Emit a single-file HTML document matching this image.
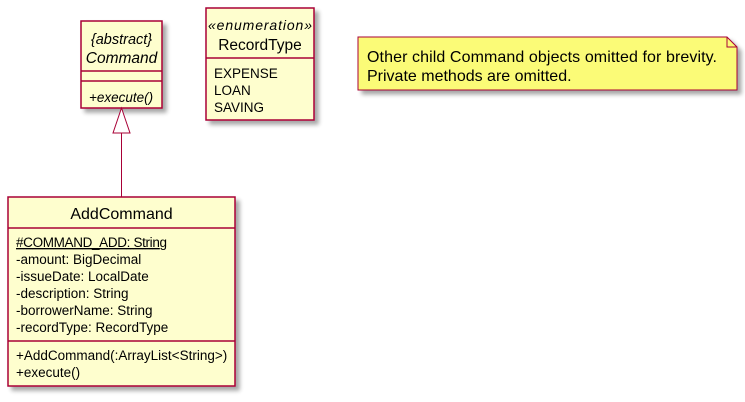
<!DOCTYPE html>
<html><head><meta charset="utf-8"><style>html,body{margin:0;padding:0;background:#fff}svg{display:block}text{font-family:"Liberation Sans",sans-serif;fill:#000}</style></head>
<body>
<svg width="745" height="402" viewBox="0 0 745 402" xmlns="http://www.w3.org/2000/svg">
<defs><filter id="sh" x="-10%" y="-10%" width="130%" height="130%"><feGaussianBlur in="SourceAlpha" stdDeviation="2"/><feOffset dx="4" dy="4"/><feComponentTransfer><feFuncA type="linear" slope="0.35"/></feComponentTransfer><feMerge><feMergeNode/><feMergeNode in="SourceGraphic"/></feMerge></filter></defs>
<!-- Command -->
<rect x="81" y="21" width="81" height="87" fill="#FEFECE" stroke="#A80036" stroke-width="1.5" filter="url(#sh)"/>
<line x1="81" y1="71" x2="162" y2="71" stroke="#A80036" stroke-width="1.5"/>
<line x1="81" y1="81" x2="162" y2="81" stroke="#A80036" stroke-width="1.5"/>
<text x="121.5" y="44" font-size="14.5" font-style="italic" text-anchor="middle">{abstract}</text>
<text x="121.5" y="63" font-size="15.5" font-style="italic" text-anchor="middle">Command</text>
<text x="89" y="102" font-size="13.5" font-style="italic">+execute()</text>
<!-- RecordType -->
<rect x="206" y="8" width="108" height="112" fill="#FEFECE" stroke="#A80036" stroke-width="1.5" filter="url(#sh)"/>
<line x1="206" y1="58" x2="314" y2="58" stroke="#A80036" stroke-width="1.5"/>
<text x="260" y="30" font-size="14" font-style="italic" text-anchor="middle" textLength="104">«enumeration»</text>
<text x="260" y="50" font-size="15.5" text-anchor="middle">RecordType</text>
<text x="214" y="78" font-size="13.5">EXPENSE</text>
<text x="214" y="95" font-size="13.5">LOAN</text>
<text x="214" y="112" font-size="13.5">SAVING</text>
<!-- Note -->
<path d="M358,37 L727,37 L737,47 L737,90 L358,90 Z" fill="#FBFB77" stroke="#A80036" stroke-width="1" filter="url(#sh)"/>
<path d="M727,37 L727,47 L737,47" fill="none" stroke="#A80036" stroke-width="1"/>
<text x="367" y="62" font-size="16" textLength="350">Other child Command objects omitted for brevity.</text>
<text x="367" y="81" font-size="16">Private methods are omitted.</text>
<!-- inheritance -->
<line x1="121.5" y1="133" x2="121.5" y2="197" stroke="#A80036" stroke-width="1"/>
<polygon points="121.5,108 113,133 130,133" fill="#fff" stroke="#A80036" stroke-width="1"/>
<!-- AddCommand -->
<rect x="8" y="197" width="227" height="189" fill="#FEFECE" stroke="#A80036" stroke-width="1.5" filter="url(#sh)"/>
<line x1="8" y1="228" x2="235" y2="228" stroke="#A80036" stroke-width="1.5"/>
<line x1="8" y1="341" x2="235" y2="341" stroke="#A80036" stroke-width="1.5"/>
<text x="121.5" y="219" font-size="16" text-anchor="middle">AddCommand</text>
<text x="16" y="247" font-size="13.5" text-decoration="underline" textLength="151">#COMMAND_ADD: String</text>
<text x="16" y="264" font-size="13.5">-amount: BigDecimal</text>
<text x="16" y="281" font-size="13.5">-issueDate: LocalDate</text>
<text x="16" y="298" font-size="13.5">-description: String</text>
<text x="16" y="315" font-size="13.5">-borrowerName: String</text>
<text x="16" y="332" font-size="13.5">-recordType: RecordType</text>
<text x="16" y="360" font-size="13.5">+AddCommand(:ArrayList&lt;String&gt;)</text>
<text x="16" y="377" font-size="13.5">+execute()</text>
</svg>
</body></html>
